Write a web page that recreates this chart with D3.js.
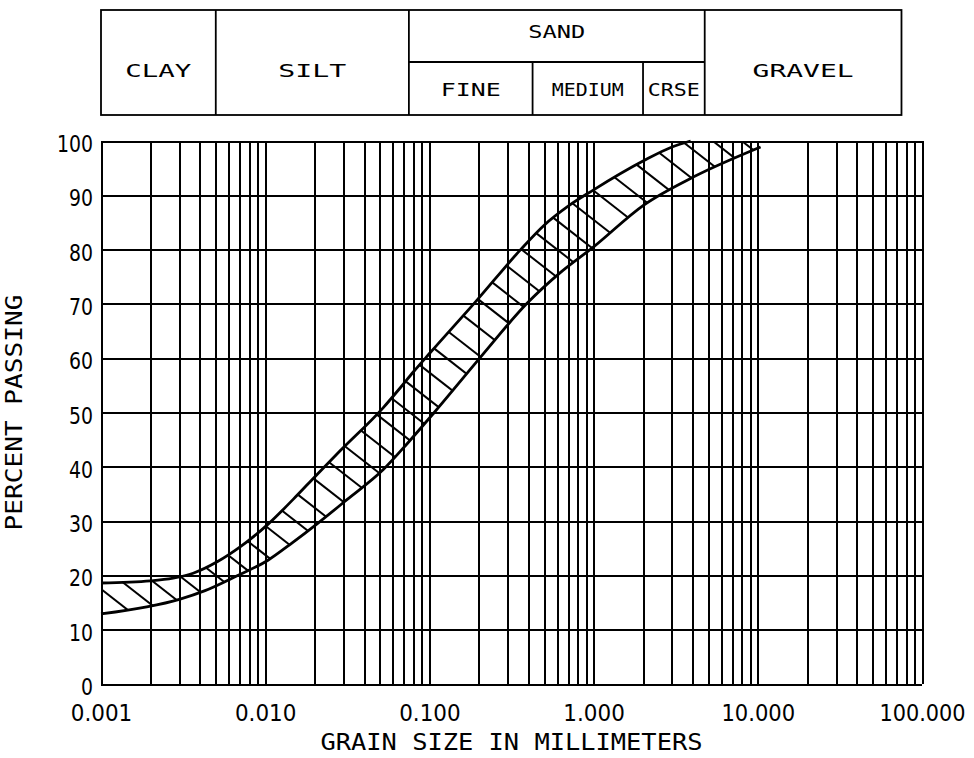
<!DOCTYPE html>
<html>
<head>
<meta charset="utf-8">
<script src="https://cdn.jsdelivr.net/npm/d3@7/dist/d3.min.js"></script>
<style>
  body { margin: 0; background: #fff; }
  svg { display: block; }
  text { fill: #000; }
</style>
</head>
<body>
<svg id="chart" width="974" height="758"></svg>
<script>
/*
 * Grain size distribution band - percent passing vs grain size (log)
 */

// axes
var sizeDomain = [0.001, 100];
var pctDomain = [0, 100];
var xTickValues = [0.001, 0.01, 0.1, 1, 10, 100];
var yTickValues = [0, 10, 20, 30, 40, 50, 60, 70, 80, 90, 100];

// upper limit of the band (mm, % passing)
var upperSize = [0.001, 0.002, 0.00275, 0.00364, 0.0051, 0.007, 0.0103, 0.0148, 0.0207, 0.0285, 0.0524, 0.0667, 0.08, 0.101, 0.195, 0.357, 0.5, 0.7, 1.0, 2.0, 3.0, 3.9];
var upperPct  = [18.6, 19.0, 19.5, 20.4, 22.5, 25.2, 29.3, 34.0, 38.6, 42.9, 50.9, 54.6, 57.5, 61.0, 70.7, 79.9, 84.5, 88.0, 91.0, 96.3, 98.9, 100];

// lower limit of the band
var lowerSize = [0.001, 0.0019, 0.003, 0.0043, 0.0066, 0.0104, 0.0146, 0.0207, 0.0316, 0.0524, 0.0734, 0.107, 0.205, 0.396, 0.629, 1.0, 2.02, 4.07, 10.4];
var lowerPct  = [12.9, 14.2, 15.6, 17.2, 19.8, 22.8, 26.0, 29.5, 34.0, 39.5, 44.3, 50.0, 60.2, 70.2, 75.8, 80.5, 88.2, 93.4, 98.9];

// soil classes in the header (boundaries in mm)
var classNames = ["CLAY", "SILT", "SAND", "GRAVEL"];
var classBounds = [0.001, 0.005, 0.075, 4.75, 75];
var sandNames = ["FINE", "MEDIUM", "CRSE"];
var sandBounds = [0.075, 0.425, 2, 4.75];

var xTitle = "GRAIN SIZE IN MILLIMETERS";
var yTitle = "PERCENT PASSING";

// ---- styles / layout ----
var plot = { left: 101, right: 922, top: 141, bottom: 684 };
var header = { top: 10, mid: 62, bottom: 115 };
var labelWidth = { CLAY: 66, SILT: 68, SAND: 57, GRAVEL: 101, FINE: 60, MEDIUM: 72, CRSE: 52 };
var hatchStyle = { spacing: 19, offset: 14, kx: 0.65, angle: 38, reach: 120 };
var tickFont = "'DejaVu Sans', sans-serif";
var labelFont = "'DejaVu Sans Mono', monospace";

var svg = d3.select("#chart");

var x = d3.scaleLog().domain(sizeDomain).range([plot.left, plot.right]);
var y = d3.scaleLinear().domain(pctDomain).range([plot.bottom, plot.top]);

var W = plot.right - plot.left, H = plot.bottom - plot.top;

// ---- grid ----
var gridV = svg.append("g")
    .attr("transform", "translate(0," + plot.bottom + ")")
    .call(d3.axisBottom(x).tickValues(x.ticks()).tickSize(-H).tickFormat(""));
var gridH = svg.append("g")
    .attr("transform", "translate(" + plot.left + ",0)")
    .call(d3.axisLeft(y).tickValues(yTickValues).tickSize(-W).tickFormat(""));

[gridV, gridH].forEach(function (g) {
    g.select(".domain").remove();
    g.selectAll("line").attr("stroke", "#000").attr("stroke-width", 2).attr("shape-rendering", "crispEdges");
});

// ---- tick labels ----
var xAxis = svg.append("g")
    .attr("transform", "translate(0," + plot.bottom + ")")
    .call(d3.axisBottom(x).tickValues(xTickValues).tickFormat(d3.format(".3f")).tickSize(0));
xAxis.select(".domain").remove();
xAxis.selectAll("text")
    .attr("y", 37).attr("dy", null)
    .style("font-size", "23px")
    .style("font-family", tickFont)
    .attr("textLength", function () { return this.textContent.length * 12.3; })
    .attr("lengthAdjust", "spacingAndGlyphs");

var yAxis = svg.append("g")
    .attr("transform", "translate(" + plot.left + ",0)")
    .call(d3.axisLeft(y).tickValues(yTickValues).tickSize(0));
yAxis.select(".domain").remove();
yAxis.selectAll("text")
    .attr("x", -8).attr("y", 10.5).attr("dy", null)
    .style("font-size", "23px")
    .style("font-family", tickFont)
    .attr("textLength", function () { return this.textContent.length * 12.0; })
    .attr("lengthAdjust", "spacingAndGlyphs");

// ---- axis titles ----
svg.append("text")
    .attr("x", (plot.left + plot.right) / 2).attr("y", 750)
    .attr("text-anchor", "middle")
    .style("font-size", "23px").style("font-family", labelFont)
    .attr("textLength", 382).attr("lengthAdjust", "spacingAndGlyphs")
    .text(xTitle);

svg.append("text")
    .attr("transform", "translate(22," + y(50) + ") rotate(-90)")
    .attr("text-anchor", "middle")
    .style("font-size", "23px").style("font-family", labelFont)
    .attr("textLength", 236).attr("lengthAdjust", "spacingAndGlyphs")
    .text(yTitle);

// ---- band curves ----
var line = d3.line()
    .x(function (d) { return x(d[0]); })
    .y(function (d) { return y(d[1]); })
    .curve(d3.curveMonotoneX);

var upperData = d3.zip(upperSize, upperPct);
var lowerData = d3.zip(lowerSize, lowerPct);
// hatch guide: upper limit, then along the 100 % line to the end of the lower limit
var guideData = upperData.concat([[lowerSize[lowerSize.length - 1], pctDomain[1]]]);

var defs = svg.append("defs");
var guidePath = svg.append("path").attr("d", line(guideData)).attr("fill", "none").attr("stroke", "none");
var lowerPath = svg.append("path").attr("d", line(lowerData)).attr("fill", "none").attr("stroke", "none");

function samplePath(node, step) {
    var len = node.getTotalLength(), pts = [];
    for (var s = 0; s < len; s += step) {
        var p = node.getPointAtLength(s);
        pts.push([p.x, p.y]);
    }
    var e = node.getPointAtLength(len);
    pts.push([e.x, e.y]);
    return pts;
}

var guidePts = samplePath(guidePath.node(), 0.5);
var lowerPts = samplePath(lowerPath.node(), 0.5);

defs.append("clipPath").attr("id", "band")
    .append("polygon")
    .attr("points", guidePts.concat(lowerPts.slice().reverse()).map(function (p) { return p.join(","); }).join(" "));

// hatch origins at equal (x-compressed) arc length along the guide
var acc = [0];
for (var i = 1; i < guidePts.length; i++) {
    var dx = guidePts[i][0] - guidePts[i - 1][0], dy = guidePts[i][1] - guidePts[i - 1][1];
    acc.push(acc[i - 1] + Math.sqrt(hatchStyle.kx * hatchStyle.kx * dx * dx + dy * dy));
}
var total = acc[acc.length - 1];
var origins = [];
for (var m = hatchStyle.offset - 2 * hatchStyle.spacing; m <= total; m += hatchStyle.spacing) {
    if (m < 0) {
        origins.push([guidePts[0][0] + m / hatchStyle.kx, guidePts[0][1]]);
    } else {
        var j = Math.min(d3.bisectLeft(acc, m), guidePts.length - 1);
        origins.push(guidePts[j]);
    }
}

var ang = hatchStyle.angle * Math.PI / 180, ux = Math.cos(ang), uy = Math.sin(ang);
svg.append("g")
    .attr("clip-path", "url(#band)")
    .selectAll("line")
    .data(origins)
    .join("line")
    .attr("x1", function (d) { return d[0] - ux * 6; })
    .attr("y1", function (d) { return d[1] - uy * 6; })
    .attr("x2", function (d) { return d[0] + ux * hatchStyle.reach; })
    .attr("y2", function (d) { return d[1] + uy * hatchStyle.reach; })
    .attr("stroke", "#000")
    .attr("stroke-width", 2);

svg.append("path").attr("d", line(upperData))
    .attr("fill", "none").attr("stroke", "#000").attr("stroke-width", 2.8);
svg.append("path").attr("d", line(lowerData))
    .attr("fill", "none").attr("stroke", "#000").attr("stroke-width", 2.8);

// ---- header (soil classes) ----
var hdr = svg.append("g").attr("stroke", "#000").attr("stroke-width", 1.8).attr("fill", "none");
var cx0 = x(classBounds[0]), cx1 = x(classBounds[classBounds.length - 1]);
hdr.append("rect")
    .attr("x", cx0).attr("y", header.top)
    .attr("width", cx1 - cx0).attr("height", header.bottom - header.top);
hdr.selectAll("line.cls")
    .data(classBounds.slice(1, -1))
    .join("line").attr("class", "cls")
    .attr("x1", function (d) { return x(d); }).attr("x2", function (d) { return x(d); })
    .attr("y1", header.top).attr("y2", header.bottom);
hdr.append("line")
    .attr("x1", x(sandBounds[0])).attr("x2", x(sandBounds[sandBounds.length - 1]))
    .attr("y1", header.mid).attr("y2", header.mid);
hdr.selectAll("line.sand")
    .data(sandBounds.slice(1, -1))
    .join("line").attr("class", "sand")
    .attr("x1", function (d) { return x(d); }).attr("x2", function (d) { return x(d); })
    .attr("y1", header.mid).attr("y2", header.bottom);

function midX(bounds, i) { return (x(bounds[i]) + x(bounds[i + 1])) / 2; }

svg.append("g").selectAll("text")
    .data(classNames)
    .join("text")
    .attr("x", function (d, i) { return midX(classBounds, i); })
    .attr("y", function (d) { return d === "SAND" ? 38 : 77; })
    .attr("text-anchor", "middle")
    .style("font-size", "18px").style("font-family", labelFont)
    .attr("textLength", function (d) { return labelWidth[d]; })
    .attr("lengthAdjust", "spacingAndGlyphs")
    .text(function (d) { return d; });

svg.append("g").selectAll("text")
    .data(sandNames)
    .join("text")
    .attr("x", function (d, i) { return midX(sandBounds, i); })
    .attr("y", 96)
    .attr("text-anchor", "middle")
    .style("font-size", "18px").style("font-family", labelFont)
    .attr("textLength", function (d) { return labelWidth[d]; })
    .attr("lengthAdjust", "spacingAndGlyphs")
    .text(function (d) { return d; });
</script>
</body>
</html>
